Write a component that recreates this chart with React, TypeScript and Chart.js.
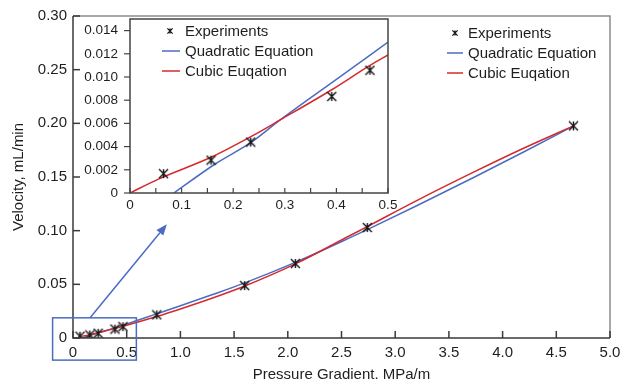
import { useEffect, useRef } from 'react';
import { Chart, registerables } from 'chart.js';

Chart.register(...registerables);

// ---- Data ----
const expX = [0.065, 0.157, 0.234, 0.391, 0.465, 0.78, 1.598, 2.07, 2.74, 4.66];
const expY = [0.00167, 0.00283, 0.00439, 0.00832, 0.01058, 0.0216, 0.0488, 0.0694, 0.1029, 0.1976];

const quadX = [0.085, 0.2, 0.35, 0.5, 0.78, 1.0, 1.3, 1.6, 2.07, 2.58, 2.74, 3.2, 3.73, 4.2, 4.66];
const quadY = [0, 0.0036, 0.0083, 0.013, 0.0225, 0.03, 0.0405, 0.0514, 0.0705, 0.0935, 0.101, 0.1232, 0.1495, 0.1735, 0.1976];

const cubicX = [0.05, 0.158, 0.236, 0.29, 0.39, 0.5, 0.78, 1.0, 1.3, 1.6, 2.07, 2.58, 2.74, 3.2, 3.73, 4.2, 4.66];
const cubicY = [0.0011, 0.0031, 0.0049, 0.0063, 0.0089, 0.0119, 0.02, 0.027, 0.0372, 0.0484, 0.069, 0.0955, 0.1038, 0.128, 0.1545, 0.177, 0.1976];

const insetQuadX = [0.085, 0.165, 0.236, 0.291, 0.4, 0.5];
const insetQuadY = [0, 0.0025, 0.0044, 0.0063, 0.0098, 0.013];
const insetCubicX = [0, 0.055, 0.158, 0.236, 0.291, 0.391, 0.465, 0.5];
const insetCubicY = [0, 0.0012, 0.0031, 0.0049, 0.0063, 0.0089, 0.011, 0.0119];

const seriesLabels = ['Experiments', 'Quadratic Equation', 'Cubic Euqation'];
const xTitle = 'Pressure Gradient. MPa/m';
const yTitle = 'Velocity, mL/min';

// ---- Styles ----
const FAMILY = '"Liberation Sans", Arial, sans-serif';
const TEXT = '#1e1e1e';
const BLUE = '#4a6cc2';
const RED = '#d42a2e';
const MARK = '#151515';

const pts = (xs: number[], ys: number[]) => xs.map((x, i) => ({ x, y: ys[i] }));

function drawStar(ctx: CanvasRenderingContext2D, x: number, y: number, r: number, lw: number) {
  ctx.save();
  ctx.strokeStyle = MARK;
  ctx.lineWidth = lw;
  ctx.beginPath();
  ctx.moveTo(x - r, y - r); ctx.lineTo(x + r, y + r);
  ctx.moveTo(x - r, y + r); ctx.lineTo(x + r, y - r);
  ctx.moveTo(x, y - r); ctx.lineTo(x, y + r);
  ctx.stroke();
  ctx.restore();
}

function makeStar(size: number, r: number) {
  const c = document.createElement('canvas');
  c.width = size; c.height = size;
  const g = c.getContext('2d')!;
  drawStar(g, size / 2, size / 2, r, 1.4);
  return c;
}

function seg(ctx: CanvasRenderingContext2D, x0: number, y0: number, x1: number, y1: number) {
  ctx.beginPath(); ctx.moveTo(x0, y0); ctx.lineTo(x1, y1); ctx.stroke();
}

function zeroPad(s: any) {
  s.paddingTop = 0; s.paddingBottom = 0; s.paddingLeft = 0; s.paddingRight = 0;
}

function drawLegend(ctx: CanvasRenderingContext2D, chart: any, lx0: number, lx1: number, mx: number, tx: number, rows: number[]) {
  ctx.save();
  ctx.font = `15px ${FAMILY}`;
  ctx.textBaseline = 'middle';
  ctx.textAlign = 'left';
  chart.data.datasets.forEach((d: any, i: number) => {
    const yy = rows[i];
    if (i === 0) {
      drawStar(ctx, mx, yy, 2.6, 1.3);
    } else {
      ctx.strokeStyle = d.borderColor;
      ctx.lineWidth = 1.5;
      seg(ctx, lx0, yy, lx1, yy);
    }
    ctx.fillStyle = TEXT;
    ctx.fillText(d.label, tx, yy + 1);
  });
  ctx.restore();
}

const mainDecor = {
  id: 'mainDecor',
  afterDraw(chart: any) {
    const { ctx, chartArea: a, scales } = chart;
    const xs = scales.x, ys = scales.y;
    ctx.save();
    ctx.lineWidth = 1.5;
    ctx.strokeStyle = '#8c8c8c';
    ctx.beginPath(); ctx.moveTo(a.left, a.top); ctx.lineTo(a.right, a.top); ctx.lineTo(a.right, a.bottom); ctx.stroke();
    ctx.strokeStyle = '#3a3a3a';
    ctx.beginPath(); ctx.moveTo(a.left, a.top); ctx.lineTo(a.left, a.bottom); ctx.lineTo(a.right, a.bottom); ctx.stroke();
    xs.ticks.forEach((t: any) => { const p = xs.getPixelForValue(t.value); seg(ctx, p, a.bottom, p, a.bottom - 7); });
    ys.ticks.forEach((t: any) => { const p = ys.getPixelForValue(t.value); seg(ctx, a.left, p, a.left + 7, p); });

    // zoom box and arrow (annotation placed in data coordinates)
    ctx.strokeStyle = BLUE;
    ctx.fillStyle = BLUE;
    ctx.lineWidth = 1.5;
    const bx0 = xs.getPixelForValue(-0.19), bx1 = xs.getPixelForValue(0.59);
    const by0 = ys.getPixelForValue(0.0188), by1 = ys.getPixelForValue(-0.0206);
    ctx.strokeRect(bx0, by0, bx1 - bx0, by1 - by0);
    const ax0 = xs.getPixelForValue(0.159), ay0 = ys.getPixelForValue(0.0188);
    const ax1 = xs.getPixelForValue(0.874), ay1 = ys.getPixelForValue(0.106);
    const ang = Math.atan2(ay1 - ay0, ax1 - ax0);
    const hl = 11, hw = 4.5;
    const bxp = ax1 - hl * Math.cos(ang), byp = ay1 - hl * Math.sin(ang);
    seg(ctx, ax0, ay0, bxp, byp);
    ctx.beginPath();
    ctx.moveTo(ax1, ay1);
    ctx.lineTo(bxp + hw * Math.sin(ang), byp - hw * Math.cos(ang));
    ctx.lineTo(bxp - hw * Math.sin(ang), byp + hw * Math.cos(ang));
    ctx.closePath();
    ctx.fill();
    ctx.restore();

    drawLegend(ctx, chart, 447, 463, 455, 468, [33, 53, 73]);
  },
};

const insetDecor = {
  id: 'insetDecor',
  beforeDraw(chart: any) {
    const { ctx, chartArea: a } = chart;
    ctx.save();
    ctx.fillStyle = '#ffffff';
    ctx.fillRect(a.left, a.top, a.right - a.left, a.bottom - a.top);
    ctx.restore();
  },
  afterDraw(chart: any) {
    const { ctx, chartArea: a, scales } = chart;
    const xs = scales.x, ys = scales.y;
    ctx.save();
    ctx.lineWidth = 1.5;
    ctx.strokeStyle = '#444444';
    ctx.strokeRect(a.left, a.top, a.right - a.left, a.bottom - a.top);
    ctx.lineWidth = 1.2;
    ys.ticks.forEach((t: any) => { const p = ys.getPixelForValue(t.value); seg(ctx, a.left, p, a.left - 6, p); });
    const tv = xs.ticks.map((t: any) => t.value);
    tv.forEach((v: number, i: number) => {
      const p = xs.getPixelForValue(v);
      seg(ctx, p, a.bottom, p, a.bottom - 5);
      if (i < tv.length - 1) {
        const m = xs.getPixelForValue((v + tv[i + 1]) / 2);
        seg(ctx, m, a.bottom, m, a.bottom - 5);
      }
    });
    ctx.restore();
    drawLegend(ctx, chart, 92, 110, 100, 115, [23, 43, 63]);
  },
};

export default function App() {
  const mainRef = useRef<HTMLCanvasElement>(null);
  const insetRef = useRef<HTMLCanvasElement>(null);

  useEffect(() => {
    const star = makeStar(11, 4.5);
    const font15 = { family: FAMILY, size: 15 };
    const noGrid = { display: false, drawTicks: false };

    const main = new Chart(mainRef.current!, {
      type: 'scatter',
      data: {
        datasets: [
          { label: seriesLabels[0], data: pts(expX, expY), pointStyle: star as any, pointRadius: 5, showLine: false, borderColor: MARK, backgroundColor: MARK, order: 0 },
          { label: seriesLabels[1], data: pts(quadX, quadY), showLine: true, pointRadius: 0, borderColor: BLUE, borderWidth: 1.5, cubicInterpolationMode: 'monotone', order: 2 },
          { label: seriesLabels[2], data: pts(cubicX, cubicY), showLine: true, pointRadius: 0, borderColor: RED, borderWidth: 1.5, cubicInterpolationMode: 'monotone', order: 1 },
        ] as any,
      },
      options: {
        responsive: false,
        animation: false,
        devicePixelRatio: 1,
        layout: { autoPadding: false, padding: { left: 0, top: 16, right: 17, bottom: 0 } },
        plugins: { legend: { display: false }, tooltip: { enabled: false } },
        scales: {
          x: {
            type: 'linear', min: 0, max: 5,
            afterFit: (s: any) => { s.height = 44; zeroPad(s); },
            grid: noGrid, border: { display: false },
            ticks: { stepSize: 0.5, padding: 6, color: TEXT, font: font15, maxRotation: 0, autoSkip: false,
              callback: (v: any) => (v === 0 ? '0' : Number(v).toFixed(1)) },
            title: { display: true, text: xTitle, color: TEXT, font: font15, padding: { top: 0, bottom: -2 } },
          },
          y: {
            type: 'linear', min: 0, max: 0.3,
            afterFit: (s: any) => { s.width = 73; zeroPad(s); },
            grid: noGrid, border: { display: false },
            ticks: { stepSize: 0.05, padding: 6, color: TEXT, font: font15,
              callback: (v: any) => (v === 0 ? '0' : Number(v).toFixed(2)) },
            title: { display: true, text: yTitle, color: TEXT, font: font15, padding: { top: 10, bottom: 0 } },
          },
        },
      } as any,
      plugins: [mainDecor],
    });

    const inset = new Chart(insetRef.current!, {
      type: 'scatter',
      data: {
        datasets: [
          { label: seriesLabels[0], data: pts(expX.slice(0, 5), expY.slice(0, 5)), pointStyle: star as any, pointRadius: 5, showLine: false, borderColor: MARK, backgroundColor: MARK, order: 0 },
          { label: seriesLabels[1], data: pts(insetQuadX, insetQuadY), showLine: true, pointRadius: 0, borderColor: BLUE, borderWidth: 1.5, cubicInterpolationMode: 'monotone', order: 2 },
          { label: seriesLabels[2], data: pts(insetCubicX, insetCubicY), showLine: true, pointRadius: 0, borderColor: RED, borderWidth: 1.5, cubicInterpolationMode: 'monotone', order: 1 },
        ] as any,
      },
      options: {
        responsive: false,
        animation: false,
        devicePixelRatio: 1,
        layout: { autoPadding: false, padding: { left: 0, top: 11, right: 12, bottom: 0 } },
        plugins: { legend: { display: false }, tooltip: { enabled: false } },
        scales: {
          x: {
            type: 'linear', min: 0, max: 0.5,
            afterFit: (s: any) => { s.height = 25; zeroPad(s); },
            grid: noGrid, border: { display: false },
            ticks: { stepSize: 0.1, padding: 4, color: TEXT, font: { family: FAMILY, size: 13.5 }, maxRotation: 0, autoSkip: false,
              callback: (v: any) => (v === 0 ? '0' : Number(v).toFixed(1)) },
          },
          y: {
            type: 'linear', min: 0, max: 0.015,
            afterFit: (s: any) => { s.width = 60; zeroPad(s); },
            grid: noGrid, border: { display: false },
            ticks: { stepSize: 0.002, includeBounds: false, padding: 12, color: TEXT, font: { family: FAMILY, size: 13.5 },
              callback: (v: any) => (v === 0 ? '0' : Number(v).toFixed(3)) },
          },
        },
      } as any,
      plugins: [insetDecor],
    });

    return () => { main.destroy(); inset.destroy(); };
  }, []);

  return (
    <div style={{ position: 'fixed', left: 0, top: 0, width: 627, height: 382, background: '#ffffff' }}>
      <canvas ref={mainRef} width={627} height={382} style={{ position: 'absolute', left: 0, top: 0 }} />
      <canvas ref={insetRef} width={330} height={210} style={{ position: 'absolute', left: 70, top: 8 }} />
    </div>
  );
}
